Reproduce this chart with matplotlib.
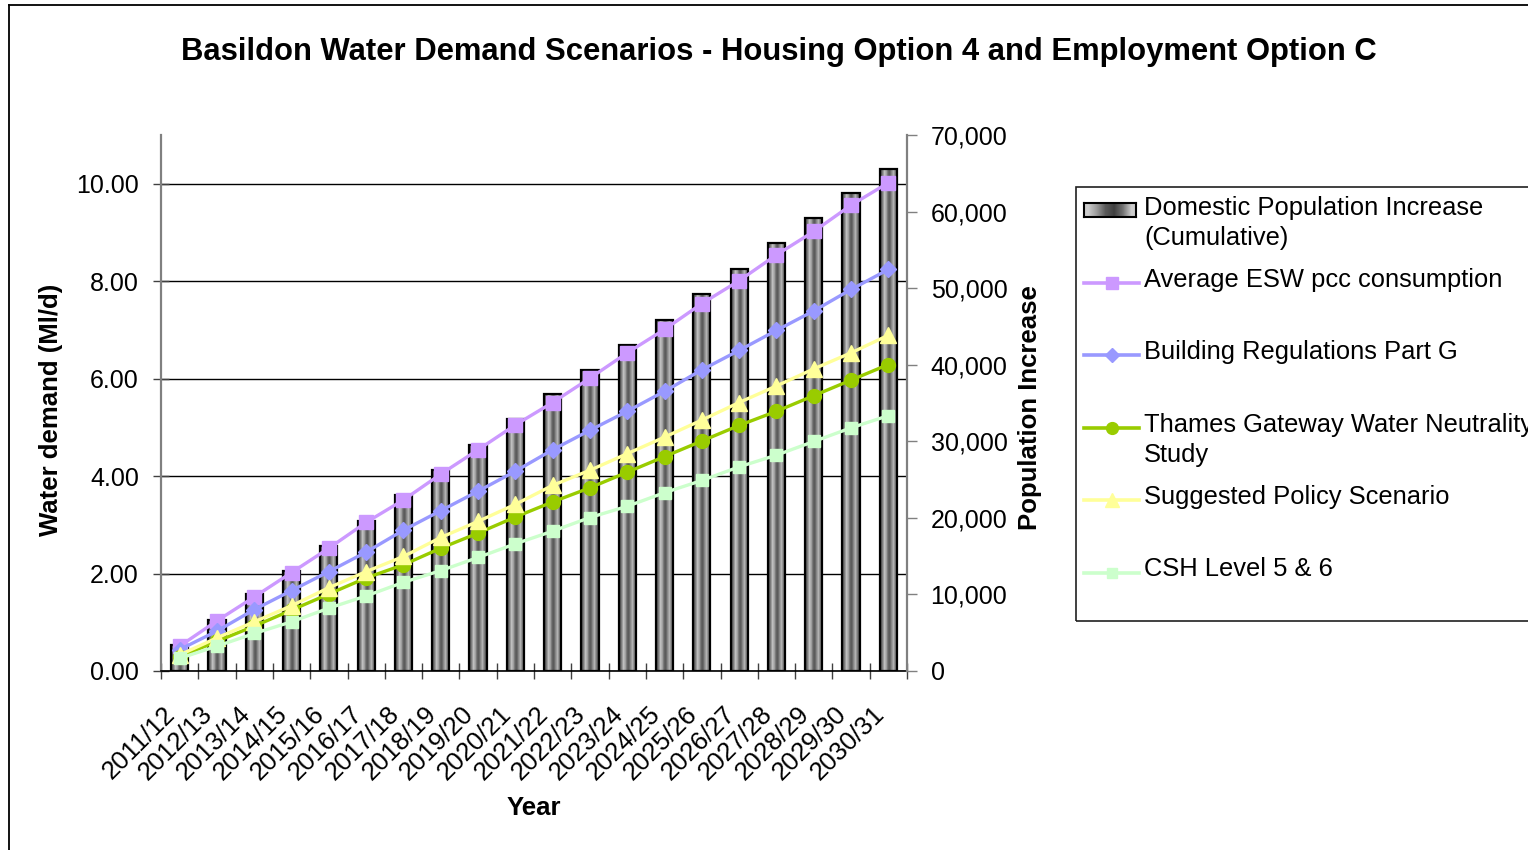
import numpy as np
import matplotlib
matplotlib.use('Agg')
import matplotlib.pyplot as plt
from matplotlib.lines import Line2D
from matplotlib.patches import Rectangle
from matplotlib.ticker import FuncFormatter
from matplotlib.transforms import ScaledTranslation

plt.rcParams['font.family'] = ['Liberation Sans', 'DejaVu Sans']

years = ['2011/12', '2012/13', '2013/14', '2014/15', '2015/16', '2016/17', '2017/18',
         '2018/19', '2019/20', '2020/21', '2021/22', '2022/23', '2023/24', '2024/25',
         '2025/26', '2026/27', '2027/28', '2028/29', '2029/30', '2030/31']

# cumulative domestic population increase (right axis)
population = [3360, 6630, 10030, 13020, 16330, 19600, 23000, 26270, 29540, 32900,
              36160, 39290, 42560, 45870, 49190, 52490, 55860, 59170, 62450, 65570]

# water demand scenarios, Ml/d (left axis)
avg_esw = [0.51, 1.03, 1.52, 2.02, 2.52, 3.05, 3.51, 4.04, 4.54, 5.05,
           5.51, 6.01, 6.53, 7.01, 7.54, 8.01, 8.54, 9.02, 9.56, 10.02]
part_g = [0.44, 0.82, 1.26, 1.65, 2.04, 2.44, 2.89, 3.29, 3.69, 4.10,
          4.54, 4.94, 5.33, 5.74, 6.18, 6.58, 6.99, 7.39, 7.83, 8.24]
thames = [0.29, 0.61, 0.92, 1.25, 1.58, 1.91, 2.18, 2.52, 2.83, 3.16,
          3.47, 3.76, 4.08, 4.40, 4.72, 5.04, 5.33, 5.65, 5.97, 6.29]
policy = [0.33, 0.68, 1.01, 1.34, 1.71, 2.04, 2.35, 2.74, 3.07, 3.42,
          3.81, 4.12, 4.46, 4.80, 5.15, 5.51, 5.85, 6.20, 6.53, 6.89]
csh = [0.26, 0.51, 0.77, 1.01, 1.29, 1.54, 1.82, 2.06, 2.33, 2.61,
       2.87, 3.15, 3.38, 3.66, 3.91, 4.19, 4.43, 4.71, 4.99, 5.24]

series = [
    (avg_esw, 'Average ESW pcc consumption', '#CC99FF', 's', 9.5),
    (part_g, 'Building Regulations Part G', '#9999FF', 'D', 8.5),
    (thames, 'Thames Gateway Water Neutrality\nStudy', '#99CC00', 'o', 10),
    (policy, 'Suggested Policy Scenario', '#FFFF99', '^', 11),
    (csh, 'CSH Level 5 & 6', '#CCFFCC', 's', 8.5),
]

W, H = 1528, 850
fig = plt.figure(figsize=(W / 100, H / 100), dpi=100)


def fx(px):
    return px / W


def fy(py):
    return 1 - py / H


TICK = 18
LAB = 18.5

ax = fig.add_axes([fx(161), fy(671), (907 - 161) / W, (671 - 135) / H])
ax_pop = ax.twinx()
ax_ln = fig.add_axes(ax.get_position(), sharex=ax, sharey=ax)
ax_ln.set_axis_off()
ax_ln.patch.set_visible(False)

x = np.arange(len(years))

# bars with a cylinder-ish shading
bar_shade = np.array([[0.3, 0.5, 0.75, 0.65, 0.4, 0.35, 0.55, 0.7, 0.5, 0.3]])
bars = ax_pop.bar(x, population, width=0.46, facecolor='none',
                  edgecolor='black', linewidth=1.6, zorder=3)
for b in bars:
    ax_pop.imshow(bar_shade, cmap='gray', vmin=0, vmax=1, aspect='auto',
                  interpolation='bilinear', zorder=2,
                  extent=(b.get_x(), b.get_x() + b.get_width(), 0, b.get_height()))

for vals, label, color, marker, ms in series:
    ax_ln.plot(x, vals, color=color, lw=2.4, marker=marker, ms=ms,
               mfc=color, mec=color, clip_on=False)

ax.set_xlim(-0.5, len(years) - 0.5)
ax.set_ylim(0, 11)
ax_pop.set_ylim(0, 70000)

# left axis
ax.set_yticks(np.arange(0, 11, 2))
ax.yaxis.set_major_formatter(FuncFormatter(lambda v, p: f'{v:.2f}'))
ax.yaxis.grid(True, color='black', lw=1)
ax.set_axisbelow(True)
ax.tick_params(axis='y', direction='inout', length=12, width=1, color='#404040',
               pad=10, labelsize=TICK)
ax.spines['left'].set_color('#808080')
ax.spines['left'].set_linewidth(1.6)
ax.spines['bottom'].set_color('black')
ax.spines['bottom'].set_linewidth(1.2)
ax.spines['top'].set_visible(False)
ax.spines['right'].set_visible(False)

# category axis
ax.set_xticks(np.arange(-0.5, len(years), 1))
ax.set_xticklabels([])
ax.set_xticks(x, labels=years, minor=True)
ax.tick_params(axis='x', which='major', direction='inout', length=12, width=1,
               color='#404040')
ax.tick_params(axis='x', which='minor', length=0, pad=32, labelsize=18.5)
shift = ScaledTranslation(-8 / 100, 5 / 100, fig.dpi_scale_trans)
for lab in ax.get_xticklabels(minor=True):
    lab.set_rotation(45)
    lab.set_ha('right')
    lab.set_va('center')
    lab.set_rotation_mode('anchor')
    lab.set_transform(lab.get_transform() + shift)

# right axis
ax_pop.set_yticks(np.arange(0, 70001, 10000))
ax_pop.yaxis.set_major_formatter(FuncFormatter(lambda v, p: f'{v:,.0f}'))
ax_pop.tick_params(axis='y', direction='out', length=7, width=1, color='#808080',
                   pad=10, labelsize=TICK)
for s in ['left', 'top', 'bottom']:
    ax_pop.spines[s].set_visible(False)
ax_pop.spines['right'].set_color('#808080')
ax_pop.spines['right'].set_linewidth(1.6)

ax.set_ylabel('Water demand (Ml/d)', fontsize=LAB, fontweight='bold')
ax.yaxis.set_label_coords(-0.131, 0.487)
ax_pop.set_ylabel('Population Increase', fontsize=LAB, fontweight='bold')
ax_pop.yaxis.set_label_coords(1.1488, 0.4907)
ax.set_xlabel('Year', fontsize=LAB, fontweight='bold')
ax.xaxis.set_label_coords(0.5, -0.233)

fig.text(fx(779), fy(52),
         'Basildon Water Demand Scenarios - Housing Option 4 and Employment Option C',
         ha='center', va='center', fontsize=22.3, fontweight='bold')

# chart area border
fig.add_artist(Line2D([fx(8.5), fx(8.5)], [0, fy(5)], color='black', lw=1.3))
fig.add_artist(Line2D([fx(8.5), 1], [fy(5), fy(5)], color='black', lw=1.3))

# legend
LEG = 18.4
fig.add_artist(Rectangle((fx(1075.5), fy(620.5)), 1, (620.5 - 187) / H,
                         transform=fig.transFigure, fill=False,
                         edgecolor='#202020', lw=1.2))
slot0, slot = 207.5, 72.4
txt_x = fx(1144)

leg_ax = fig.add_axes([fx(1084), fy(216.5), (1136 - 1084) / W, (216.5 - 203) / H])
leg_ax.imshow(np.array([[0.8, 0.6, 0.35, 0.25, 0.45, 0.8]]), cmap='gray',
              vmin=0, vmax=1, aspect='auto', interpolation='bilinear')
leg_ax.set_xticks([])
leg_ax.set_yticks([])
for s in leg_ax.spines.values():
    s.set_color('black')
    s.set_linewidth(1.5)
fig.text(txt_x, fy(slot0), 'Domestic Population Increase', fontsize=LEG, va='center')
fig.text(txt_x, fy(slot0 + 30.5), '(Cumulative)', fontsize=LEG, va='center')

for i, (vals, label, color, marker, ms) in enumerate(series, start=1):
    yc = slot0 + slot * i
    fig.add_artist(Line2D([fx(1084), fx(1139)], [fy(yc + 3), fy(yc + 3)],
                          color=color, lw=2.6, transform=fig.transFigure))
    fig.add_artist(Line2D([fx(1111.5)], [fy(yc + 3)], color=color, lw=0,
                          marker=marker, ms=ms - 1.5, mfc=color, mec=color,
                          transform=fig.transFigure))
    for j, line in enumerate(label.split('\n')):
        fig.text(txt_x, fy(yc + 30.5 * j), line, fontsize=LEG, va='center')

fig.savefig('out.png', dpi=100)
